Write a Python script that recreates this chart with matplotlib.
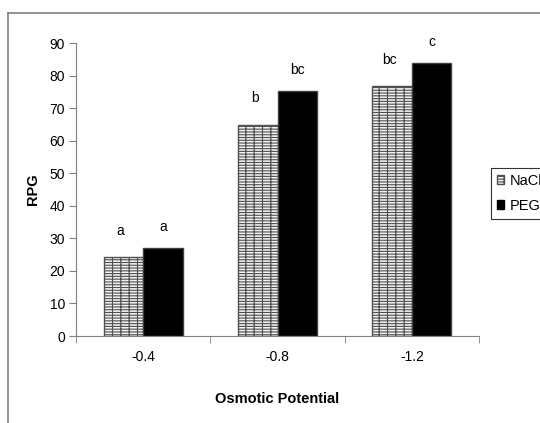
import numpy as np
import matplotlib.pyplot as plt
from matplotlib.lines import Line2D
from matplotlib.patches import Patch

# dati
categories = ["-0.4", "-0.8", "-1.2"]
nacl_values = [24.2, 65.0, 76.8]
peg_values = [27.0, 75.3, 84.0]
nacl_letters = ["a", "b", "bc"]
peg_letters = ["a", "bc", "c"]
series_names = ["NaCl", "PEG"]
y_ticks = [0, 10, 20, 30, 40, 50, 60, 70, 80, 90]

plt.rcParams["font.family"] = ["Liberation Sans", "DejaVu Sans"]
plt.rcParams["hatch.linewidth"] = 0.8

BRICK = "------||"

fig = plt.figure(figsize=(5.4, 4.23), dpi=100)
ax = fig.add_axes([76 / 540, 1 - 336 / 423, 403 / 540, 292.7 / 423])

# cornice esterna (tagliata a destra e in basso)
fig.add_artist(Line2D([8 / 540, 8 / 540], [0, 1 - 13 / 423], color="#808080", lw=1.2))
fig.add_artist(Line2D([8 / 540, 1], [1 - 13 / 423, 1 - 13 / 423], color="#808080", lw=1.2))

x = np.arange(len(categories))
width = 0.294
bars_nacl = ax.bar(x - width / 2, nacl_values, width, facecolor="#f0f0f0",
                   edgecolor="#505050", hatch=BRICK, linewidth=1.0)
bars_peg = ax.bar(x + width / 2, peg_values, width, facecolor="black",
                  edgecolor="#404040", linewidth=1.0)

# lettere di significativita
for xi, v, lbl in zip(x - width / 2, nacl_values, nacl_letters):
    ax.text(xi - 0.02, v + 6.0, lbl, ha="center", va="bottom", fontsize=10)
for xi, v, lbl in zip(x + width / 2, peg_values, peg_letters):
    ax.text(xi, v + 4.3, lbl, ha="center", va="bottom", fontsize=10)

ax.set_xlim(-0.5, 2.5)
ax.set_ylim(0, 90)
ax.set_yticks(y_ticks)
ax.set_xticks(x)
ax.set_xticklabels(categories)
ax.set_xticks([-0.5, 0.5, 1.5, 2.5], minor=True)
ax.tick_params(axis="x", which="major", length=0, pad=10, labelsize=10)
ax.tick_params(axis="x", which="minor", length=5, color="#808080", direction="out")
ax.tick_params(axis="y", length=5, color="#808080", labelsize=10, pad=3)

for side in ["top", "right"]:
    ax.spines[side].set_visible(False)
ax.spines["left"].set_color("#808080")
ax.spines["bottom"].set_color("#808080")

ax.set_ylabel("RPG", fontsize=10.5, fontweight="bold", labelpad=7)
ax.set_xlabel("Osmotic Potential", fontsize=10.5, fontweight="bold", labelpad=20)

# legenda tagliata sul bordo destro come nell'originale
handles = [Patch(facecolor="#f0f0f0", edgecolor="#505050", hatch=BRICK),
           Patch(facecolor="black", edgecolor="black")]
leg = fig.legend(handles, series_names, loc="upper left",
                 bbox_to_anchor=(491 / 540, 1 - 168 / 423), fontsize=10.5,
                 fancybox=False, frameon=True, handlelength=0.5, handleheight=0.6,
                 handletextpad=0.4, borderpad=0.4, labelspacing=0.75, borderaxespad=0)
leg.get_frame().set_edgecolor("black")
leg.get_frame().set_linewidth(0.8)

fig.savefig("out.png", dpi=100)
plt.close()
